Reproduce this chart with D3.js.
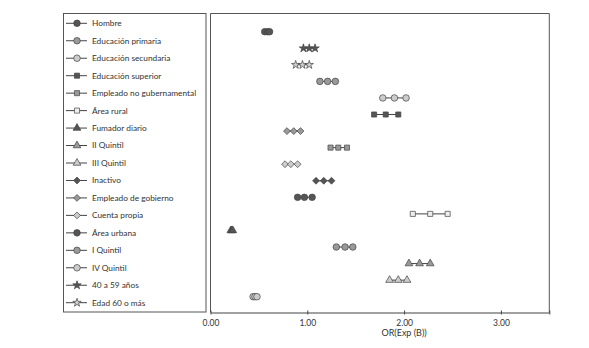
<!DOCTYPE html>
<html>
<head>
<meta charset="utf-8">
<script src="https://cdn.jsdelivr.net/npm/d3@7"></script>
<style>
  body { margin: 0; background: #fff; }
  text { font-family: Lato, "Open Sans", sans-serif; fill: #333; }
</style>
</head>
<body>
<div id="chart"></div>
<script>
// legend entries, top to bottom
const legendLabels = ["Hombre", "Educación primaria", "Educación secundaria", "Educación superior",
  "Empleado no gubernamental", "Área rural", "Fumador diario", "II Quintil", "III Quintil",
  "Inactivo", "Empleado de gobierno", "Cuenta propia", "Área urbana", "I Quintil",
  "IV Quintil", "40 a 59 años", "Edad 60 o más"];
const legendShapes = ["circle", "circle", "circle", "square", "square", "square", "triangle", "triangle", "triangle",
  "diamond", "diamond", "diamond", "circle", "circle", "circle", "star", "star"];
const legendTones = ["dark", "mid", "light", "dark", "mid", "white", "dark", "mid", "light",
  "dark", "mid", "light", "dark", "mid", "light", "dark", "light"];

// plotted rows, top to bottom (lower CI, OR, upper CI)
const rowLabels = ["Hombre", "40 a 59 años", "Edad 60 o más", "Educación primaria", "Educación secundaria",
  "Educación superior", "Empleado de gobierno", "Empleado no gubernamental", "Cuenta propia", "Inactivo",
  "Área urbana", "Área rural", "Fumador diario", "I Quintil", "II Quintil", "III Quintil", "IV Quintil"];
const lower = [0.56, 0.96, 0.88, 1.13, 1.78, 1.69, 0.79, 1.24, 0.77, 1.09, 0.90, 2.09, 0.21, 1.30, 2.05, 1.85, 0.44];
const oddsRatio = [0.59, 1.02, 0.95, 1.21, 1.90, 1.81, 0.86, 1.32, 0.83, 1.17, 0.97, 2.27, 0.22, 1.39, 2.16, 1.94, 0.46];
const upper = [0.61, 1.08, 1.02, 1.29, 2.02, 1.94, 0.93, 1.41, 0.90, 1.25, 1.05, 2.45, 0.23, 1.47, 2.27, 2.03, 0.48];
const xTicks = [0, 1, 2, 3];

const tones = {dark: "#555", mid: "#999", light: "#ccc", white: "#eee"};
const shapes = {
  circle: {type: d3.symbolCircle, size: 34},
  square: {type: d3.symbolSquare, size: 26},
  triangle: {type: d3.symbolTriangle, size: 26},
  diamond: {type: d3.symbolDiamond2 || d3.symbolDiamond, size: 30},
  star: {type: d3.symbolStar, size: 22}
};

const width = 589, height = 348;
const svg = d3.select("#chart").append("svg")
  .attr("width", width).attr("height", height);

const styleOf = {};
legendLabels.forEach((l, i) => styleOf[l] = {shape: legendShapes[i], tone: legendTones[i]});

function sym(shape) {
  return d3.symbol().type(shapes[shape].type).size(shapes[shape].size)();
}

// ---- legend ----
const legend = {x0: 63.5, x1: 206, y0: 13.5, y1: 312};
svg.append("rect")
  .attr("x", legend.x0).attr("y", legend.y0)
  .attr("width", legend.x1 - legend.x0).attr("height", legend.y1 - legend.y0)
  .attr("fill", "none").attr("stroke", "#555").attr("stroke-width", 1);

const ly = d3.scalePoint().domain(legendLabels).range([23.3, 302.7]);
const lg = svg.append("g").selectAll("g")
  .data(legendLabels).join("g")
  .attr("transform", d => `translate(0,${ly(d)})`);
lg.append("line").attr("x1", 66).attr("x2", 87)
  .attr("stroke", "#444").attr("stroke-width", 1);
lg.append("path")
  .attr("transform", "translate(77,0)")
  .attr("d", (d, i) => sym(legendShapes[i]))
  .attr("fill", (d, i) => tones[legendTones[i]])
  .attr("stroke", "#444").attr("stroke-width", 0.7);
lg.append("text").attr("x", 92).attr("dy", "0.35em")
  .attr("font-size", 8.3).text(d => d);

// ---- plot ----
const plot = {x0: 210.5, x1: 549.3, y0: 13.5, y1: 312.5};
const x = d3.scaleLinear().domain([0, 3.5]).range([plot.x0, plot.x1]);
const y = d3.scalePoint().domain(rowLabels).range([31.7, 296.7]);

svg.append("path")
  .attr("d", `M${plot.x0},${plot.y1}V${plot.y0}H${plot.x1}V${plot.y1}`)
  .attr("fill", "none").attr("stroke", "#555").attr("stroke-width", 1);

const xAxis = svg.append("g")
  .attr("transform", `translate(0,${plot.y1})`)
  .call(d3.axisBottom(x).tickValues(xTicks.concat([3.5])).tickSizeInner(3).tickSizeOuter(0)
    .tickFormat(d => d === 3.5 ? "" : d3.format(".2f")(d)));
xAxis.select(".domain").attr("stroke", "#444").attr("stroke-width", 1.2);
xAxis.selectAll(".tick line").attr("stroke", "#444").attr("y1", -2).attr("y2", 2);
xAxis.selectAll(".tick text").attr("font-size", 8.5).attr("fill", "#333")
  .attr("font-family", "Lato, 'Open Sans', sans-serif").attr("y", 7).attr("dy", "0.71em");

svg.append("text")
  .attr("x", x(2)).attr("y", 336)
  .attr("text-anchor", "middle").attr("font-size", 9)
  .text("OR(Exp (B))");

const rows = svg.append("g").selectAll("g")
  .data(rowLabels).join("g")
  .attr("transform", d => `translate(0,${y(d)})`);
rows.append("line")
  .attr("x1", (d, i) => x(lower[i])).attr("x2", (d, i) => x(upper[i]))
  .attr("stroke", "#444").attr("stroke-width", 1);
rows.selectAll("path")
  .data((d, i) => [lower[i], oddsRatio[i], upper[i]].map(v => ({v, s: styleOf[d]})))
  .join("path")
  .attr("transform", d => `translate(${x(d.v)},0)`)
  .attr("d", d => sym(d.s.shape))
  .attr("fill", d => tones[d.s.tone])
  .attr("stroke", "#444").attr("stroke-width", 0.7);
</script>
</body>
</html>
